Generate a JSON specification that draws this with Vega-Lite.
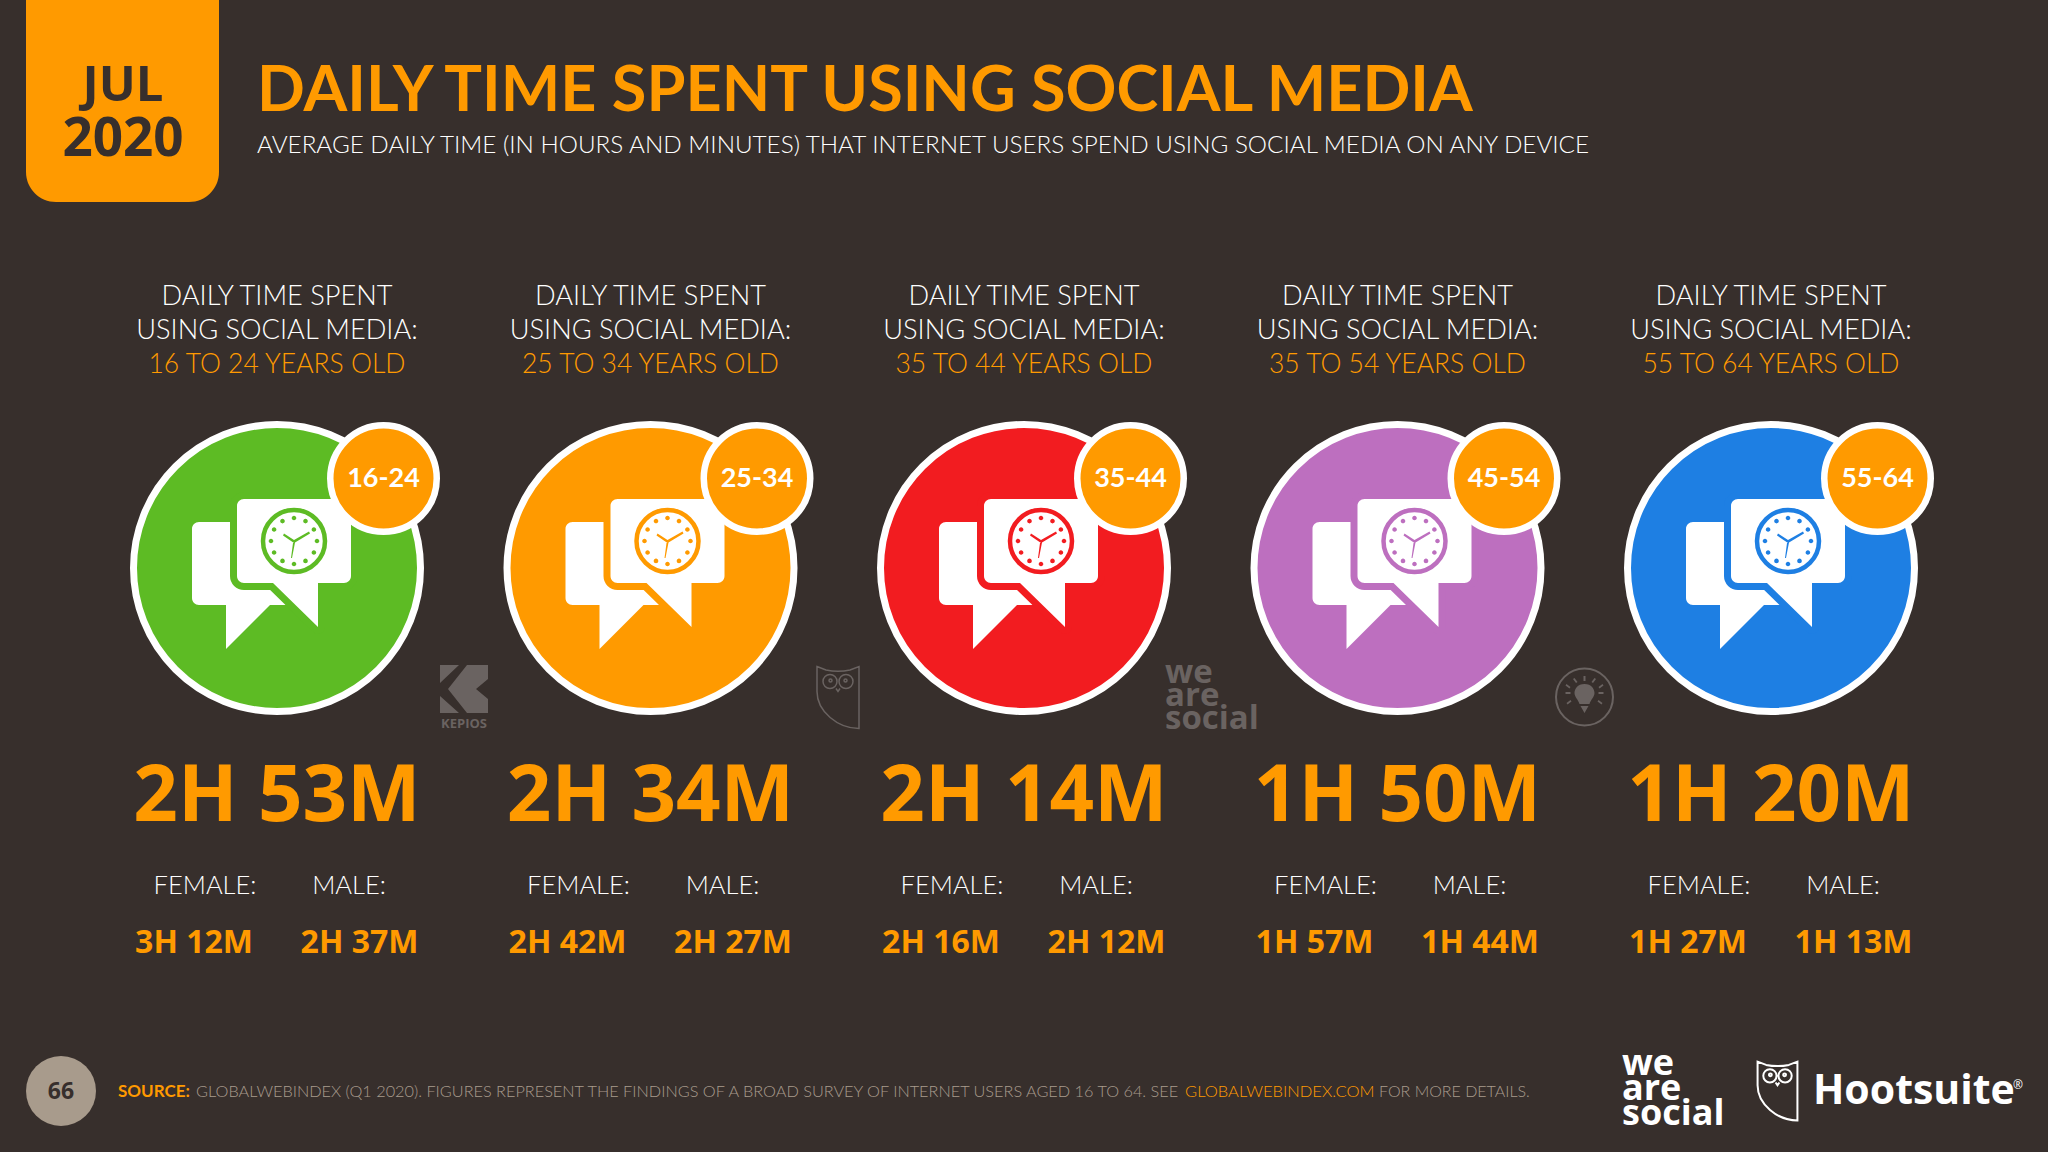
{
  "$schema": "https://vega.github.io/schema/vega-lite/v6.json",
  "width": 2048,
  "height": 1152,
  "padding": 0,
  "autosize": {"type": "none"},
  "background": "#372f2c",
  "title": {
    "text": "DAILY TIME SPENT USING SOCIAL MEDIA",
    "subtitle": "AVERAGE DAILY TIME (IN HOURS AND MINUTES) THAT INTERNET USERS SPEND USING SOCIAL MEDIA ON ANY DEVICE",
    "anchor": "start",
    "frame": "group",
    "orient": "top",
    "dx": 257,
    "offset": -188,
    "font": "Lato",
    "fontWeight": "bold",
    "fontSize": 63,
    "color": "#ff9a00",
    "subtitleFont": "Lato",
    "subtitleFontWeight": 300,
    "subtitleFontSize": 24.25,
    "subtitleColor": "#ffffff",
    "subtitlePadding": 10
  },
  "config": {
    "view": {"stroke": null},
    "axis": {"disable": true},
    "legend": {"disable": true},
    "point": {"filled": true, "opacity": 1},
    "text": {"align": "center", "baseline": "middle"}
  },
  "data": {
    "values": [
      {"age": "16-24", "range": "16 TO 24 YEARS OLD", "total": "2H 53M", "female": "3H 12M", "male": "2H 37M"},
      {"age": "25-34", "range": "25 TO 34 YEARS OLD", "total": "2H 34M", "female": "2H 42M", "male": "2H 27M"},
      {"age": "35-44", "range": "35 TO 44 YEARS OLD", "total": "2H 14M", "female": "2H 16M", "male": "2H 12M"},
      {"age": "45-54", "range": "35 TO 54 YEARS OLD", "total": "1H 50M", "female": "1H 57M", "male": "1H 44M"},
      {"age": "55-64", "range": "55 TO 64 YEARS OLD", "total": "1H 20M", "female": "1H 27M", "male": "1H 13M"}
    ]
  },
  "encoding": {
    "x": {"field": "age", "type": "ordinal"}
  },
  "layer": [
    {
      "data": {"values": [{"item": "tab"}]},
      "mark": {"type": "point", "size": 4, "color": "#ff9a00", "xOffset": -154.5, "yOffset": -243,
        "shape": "M-96.5 -116H96.5V86A30 30 0 0 1 66.5 116H-66.5A30 30 0 0 1 -96.5 86Z"},
      "encoding": {
        "x": {"datum": "16-24", "type": "ordinal", "scale": {"type": "point", "domain": ["16-24", "25-34", "35-44", "45-54", "55-64"], "range": [277, 1771], "padding": 0}},
        "y": {"datum": "head", "type": "ordinal", "scale": {"type": "point", "domain": ["head", "icon", "total", "split", "foot"], "range": [329, 1091], "padding": 0}}
      }
    },
    {
      "data": {"values": [{"month": "JUL"}]},
      "mark": {"type": "text", "font": "Open Sans", "fontWeight": "bold", "fontSize": 49, "color": "#372f2c", "xOffset": -154, "yOffset": -243},
      "encoding": {"x": {"datum": "16-24", "type": "ordinal"}, "y": {"datum": "head", "type": "ordinal"}, "text": {"field": "month"}}
    },
    {
      "data": {"values": [{"year": "2020"}]},
      "mark": {"type": "text", "font": "Open Sans", "fontWeight": "bold", "fontSize": 53, "color": "#372f2c", "xOffset": -154, "yOffset": -189},
      "encoding": {"x": {"datum": "16-24", "type": "ordinal"}, "y": {"datum": "head", "type": "ordinal"}, "text": {"field": "year"}}
    },
    {
      "mark": {"type": "text", "font": "Lato", "fontWeight": 300, "fontSize": 27.2, "lineHeight": 34, "color": "#ffffff", "yOffset": -32,
        "text": ["DAILY TIME SPENT", "USING SOCIAL MEDIA:"]},
      "encoding": {"y": {"datum": "head", "type": "ordinal"}}
    },
    {
      "mark": {"type": "text", "font": "Lato", "fontWeight": 300, "fontSize": 26.5, "color": "#ff9a00", "yOffset": 36},
      "encoding": {"y": {"datum": "head", "type": "ordinal"}, "text": {"field": "range"}}
    },
    {
      "mark": {"type": "point", "shape": "circle", "size": 82369, "stroke": "#ffffff", "strokeWidth": 7, "yOffset": 48.5},
      "encoding": {
        "y": {"datum": "icon", "type": "ordinal"},
        "fill": {"field": "age", "type": "nominal", "scale": {"domain": ["16-24", "25-34", "35-44", "45-54", "55-64"], "range": ["#5dbb24", "#ff9a00", "#f21c20", "#bd6fbf", "#1e7fe3"]}}
      }
    },
    {
      "mark": {"type": "point", "size": 4, "color": "#ffffff", "yOffset": 48.5,
        "shape": "M-78 -46H0V10L9 37H-7L-51 81V37H-78A7 7 0 0 1 -85 30V-39A7 7 0 0 1 -78 -46Z"},
      "encoding": {"y": {"datum": "icon", "type": "ordinal"}}
    },
    {
      "mark": {"type": "point", "size": 4, "strokeWidth": 14, "strokeJoin": "round", "fill": "#ffffff", "yOffset": 48.5,
        "shape": "M-33 -69H67A7 7 0 0 1 74 -62V8A7 7 0 0 1 67 15H41V59L-4 15H-33A7 7 0 0 1 -40 8V-62A7 7 0 0 1 -33 -69Z"},
      "encoding": {
        "y": {"datum": "icon", "type": "ordinal"},
        "stroke": {"field": "age", "type": "nominal", "scale": {"domain": ["16-24", "25-34", "35-44", "45-54", "55-64"], "range": ["#5dbb24", "#ff9a00", "#f21c20", "#bd6fbf", "#1e7fe3"]}}
      }
    },
    {
      "mark": {"type": "point", "size": 4, "color": "#ffffff", "yOffset": 48.5,
        "shape": "M-33 -69H67A7 7 0 0 1 74 -62V8A7 7 0 0 1 67 15H41V59L-4 15H-33A7 7 0 0 1 -40 8V-62A7 7 0 0 1 -33 -69Z"},
      "encoding": {"y": {"datum": "icon", "type": "ordinal"}}
    },
    {
      "mark": {"type": "point", "shape": "circle", "size": 3844, "strokeWidth": 4.5, "fill": "#ffffff", "xOffset": 17, "yOffset": 21.5},
      "encoding": {
        "y": {"datum": "icon", "type": "ordinal"},
        "stroke": {"field": "age", "type": "nominal"}
      }
    },
    {
      "mark": {"type": "point", "size": 4, "xOffset": 17, "yOffset": 21.5,
        "shape": "M-2.3 -23a2.3 2.3 0 1 0 4.6 0a2.3 2.3 0 1 0-4.6 0ZM9.2 -19.9a2.3 2.3 0 1 0 4.6 0a2.3 2.3 0 1 0-4.6 0ZM17.6 -11.5a2.3 2.3 0 1 0 4.6 0a2.3 2.3 0 1 0-4.6 0ZM20.7 0a2.3 2.3 0 1 0 4.6 0a2.3 2.3 0 1 0-4.6 0ZM17.6 11.5a2.3 2.3 0 1 0 4.6 0a2.3 2.3 0 1 0-4.6 0ZM9.2 19.9a2.3 2.3 0 1 0 4.6 0a2.3 2.3 0 1 0-4.6 0ZM-2.3 23a2.3 2.3 0 1 0 4.6 0a2.3 2.3 0 1 0-4.6 0ZM-13.8 19.9a2.3 2.3 0 1 0 4.6 0a2.3 2.3 0 1 0-4.6 0ZM-22.2 11.5a2.3 2.3 0 1 0 4.6 0a2.3 2.3 0 1 0-4.6 0ZM-25.3 0a2.3 2.3 0 1 0 4.6 0a2.3 2.3 0 1 0-4.6 0ZM-22.2 -11.5a2.3 2.3 0 1 0 4.6 0a2.3 2.3 0 1 0-4.6 0ZM-13.8 -19.9a2.3 2.3 0 1 0 4.6 0a2.3 2.3 0 1 0-4.6 0ZM0 2L-11 -5.5L-10 -7.5L0 -1L15 -9.5L16 -7.5L1 1.5L-2 17L-3 17L-1 2Z"},
      "encoding": {
        "y": {"datum": "icon", "type": "ordinal"},
        "fill": {"field": "age", "type": "nominal"}
      }
    },
    {
      "mark": {"type": "point", "shape": "circle", "size": 11342, "fill": "#ff9a00", "stroke": "#ffffff", "strokeWidth": 6.5, "xOffset": 106.5, "yOffset": -41},
      "encoding": {"y": {"datum": "icon", "type": "ordinal"}}
    },
    {
      "mark": {"type": "text", "font": "Lato", "fontWeight": "bold", "fontSize": 27, "color": "#ffffff", "xOffset": 106.5, "yOffset": -41},
      "encoding": {"y": {"datum": "icon", "type": "ordinal"}, "text": {"field": "age"}}
    },
    {
      "mark": {"type": "text", "font": "Open Sans", "fontWeight": "bold", "fontSize": 78, "color": "#ff9a00", "yOffset": 88},
      "encoding": {"y": {"datum": "total", "type": "ordinal"}, "text": {"field": "total"}}
    },
    {
      "mark": {"type": "text", "font": "Lato", "fontWeight": 300, "fontSize": 25.5, "color": "#ffffff", "text": "FEMALE:", "xOffset": -72, "yOffset": -15},
      "encoding": {"y": {"datum": "split", "type": "ordinal"}}
    },
    {
      "mark": {"type": "text", "font": "Lato", "fontWeight": 300, "fontSize": 25.5, "color": "#ffffff", "text": "MALE:", "xOffset": 72, "yOffset": -15},
      "encoding": {"y": {"datum": "split", "type": "ordinal"}}
    },
    {
      "mark": {"type": "text", "font": "Open Sans", "fontWeight": "bold", "fontSize": 32, "color": "#ff9a00", "xOffset": -83, "yOffset": 42},
      "encoding": {"y": {"datum": "split", "type": "ordinal"}, "text": {"field": "female"}}
    },
    {
      "mark": {"type": "text", "font": "Open Sans", "fontWeight": "bold", "fontSize": 32, "color": "#ff9a00", "xOffset": 82.5, "yOffset": 42},
      "encoding": {"y": {"datum": "split", "type": "ordinal"}, "text": {"field": "male"}}
    },
    {
      "data": {"values": [{"logo": "kepios"}]},
      "mark": {"type": "point", "size": 4, "color": "#6a6361", "xOffset": 187, "yOffset": 169.5,
        "shape": "M-24 -24H-5L-24 -6ZM-24 24V7L-5 24ZM3 -24H24V-10L12 0L24 10V24H3L-16 0Z"},
      "encoding": {"x": {"datum": "16-24", "type": "ordinal"}, "y": {"datum": "icon", "type": "ordinal"}}
    },
    {
      "data": {"values": [{"logo": "KEPIOS"}]},
      "mark": {"type": "text", "font": "Open Sans", "fontWeight": "bold", "fontSize": 13, "color": "#6a6361", "xOffset": 187, "yOffset": 204.5},
      "encoding": {"x": {"datum": "16-24", "type": "ordinal"}, "y": {"datum": "icon", "type": "ordinal"}, "text": {"field": "logo"}}
    },
    {
      "data": {"values": [{"logo": "owl"}]},
      "mark": {"type": "point", "filled": false, "size": 4, "stroke": "#6a6361", "strokeWidth": 1.5, "xOffset": 187.5, "yOffset": 178,
        "shape": "M-21 -31L-12 -27.5Q0 -25 12 -27.5L21 -31V31C0 31 -21 14 -21 -6ZM-15 -16a7 7 0 1 0 14 0a7 7 0 1 0-14 0ZM1 -16a7 7 0 1 0 14 0a7 7 0 1 0-14 0ZM-9 -17a1.5 1.5 0 1 0 3 0a1.5 1.5 0 1 0-3 0ZM6 -17a1.5 1.5 0 1 0 3 0a1.5 1.5 0 1 0-3 0ZM-2 -9L0 -6L2 -9"},
      "encoding": {"x": {"datum": "25-34", "type": "ordinal"}, "y": {"datum": "icon", "type": "ordinal"}}
    },
    {
      "data": {"values": [{"logo": "we are social"}]},
      "mark": {"type": "text", "font": "Open Sans", "fontWeight": "bold", "fontSize": 33, "lineHeight": 23, "align": "left", "baseline": "alphabetic", "color": "#6a6361", "xOffset": 141, "yOffset": 163.5,
        "text": ["we", "are", "social"]},
      "encoding": {"x": {"datum": "35-44", "type": "ordinal"}, "y": {"datum": "icon", "type": "ordinal"}}
    },
    {
      "data": {"values": [{"logo": "bulb ring"}]},
      "mark": {"type": "point", "shape": "circle", "filled": false, "size": 3249, "stroke": "#6a6361", "strokeWidth": 2, "xOffset": 187, "yOffset": 177.5},
      "encoding": {"x": {"datum": "45-54", "type": "ordinal"}, "y": {"datum": "icon", "type": "ordinal"}}
    },
    {
      "data": {"values": [{"logo": "bulb"}]},
      "mark": {"type": "point", "size": 4, "color": "#6a6361", "xOffset": 187, "yOffset": 177.5,
        "shape": "M0 -13C-7 -13 -10 -8 -10 -4C-10 0 -6 3 -5 7H5C6 3 10 0 10 -4C10 -8 7 -13 0 -13ZM-4 9H4L0 16ZM-19 -5h5v2h-5zM14 -5h5v2h-5zM-18 -13l4 3-1 1.5-4-3zM18 -13l-4 3 1 1.5 4-3zM-1 -21h2v5h-2zM-10 -19l3 4-1.5 1-3-4zM10 -19l-3 4 1.5 1 3-4zM-18 6l4-3 1 1.5-4 3zM18 6l-4-3-1 1.5 4 3z"},
      "encoding": {"x": {"datum": "45-54", "type": "ordinal"}, "y": {"datum": "icon", "type": "ordinal"}}
    },
    {
      "data": {"values": [{"page": "66"}]},
      "mark": {"type": "point", "shape": "circle", "size": 4900, "color": "#a89b8c", "xOffset": -216},
      "encoding": {"x": {"datum": "16-24", "type": "ordinal"}, "y": {"datum": "foot", "type": "ordinal"}}
    },
    {
      "data": {"values": [{"page": "66"}]},
      "mark": {"type": "text", "font": "Open Sans", "fontWeight": "bold", "fontSize": 23, "color": "#372f2c", "xOffset": -216, "yOffset": 1},
      "encoding": {"x": {"datum": "16-24", "type": "ordinal"}, "y": {"datum": "foot", "type": "ordinal"}, "text": {"field": "page"}}
    },
    {
      "data": {"values": [{"note": "SOURCE:"}]},
      "mark": {"type": "text", "font": "Lato", "fontWeight": "bold", "fontSize": 17, "align": "left", "color": "#ff9a00", "xOffset": -159, "yOffset": 1},
      "encoding": {"x": {"datum": "16-24", "type": "ordinal"}, "y": {"datum": "foot", "type": "ordinal"}, "text": {"field": "note"}}
    },
    {
      "data": {"values": [{"note": "GLOBALWEBINDEX (Q1 2020). FIGURES REPRESENT THE FINDINGS OF A BROAD SURVEY OF INTERNET USERS AGED 16 TO 64. SEE"}]},
      "mark": {"type": "text", "font": "Lato", "fontWeight": 300, "fontSize": 16.3, "align": "left", "color": "#a89b8c", "xOffset": -81, "yOffset": 1},
      "encoding": {"x": {"datum": "16-24", "type": "ordinal"}, "y": {"datum": "foot", "type": "ordinal"}, "text": {"field": "note"}}
    },
    {
      "data": {"values": [{"note": "GLOBALWEBINDEX.COM"}]},
      "mark": {"type": "text", "font": "Lato", "fontWeight": 300, "fontSize": 16.5, "align": "left", "color": "#ff9a00", "xOffset": 908, "yOffset": 1},
      "encoding": {"x": {"datum": "16-24", "type": "ordinal"}, "y": {"datum": "foot", "type": "ordinal"}, "text": {"field": "note"}}
    },
    {
      "data": {"values": [{"note": "FOR MORE DETAILS."}]},
      "mark": {"type": "text", "font": "Lato", "fontWeight": 300, "fontSize": 16, "align": "left", "color": "#a89b8c", "xOffset": 1102, "yOffset": 1},
      "encoding": {"x": {"datum": "16-24", "type": "ordinal"}, "y": {"datum": "foot", "type": "ordinal"}, "text": {"field": "note"}}
    },
    {
      "data": {"values": [{"logo": "we are social"}]},
      "mark": {"type": "text", "font": "Open Sans", "fontWeight": "bold", "fontSize": 36, "lineHeight": 25, "align": "left", "baseline": "alphabetic", "color": "#ffffff", "xOffset": -149, "yOffset": -16,
        "text": ["we", "are", "social"]},
      "encoding": {"x": {"datum": "55-64", "type": "ordinal"}, "y": {"datum": "foot", "type": "ordinal"}}
    },
    {
      "data": {"values": [{"logo": "owl"}]},
      "mark": {"type": "point", "filled": false, "size": 3.6, "stroke": "#ffffff", "strokeWidth": 2, "xOffset": 6.5,
        "shape": "M-21 -31L-12 -27.5Q0 -25 12 -27.5L21 -31V31C0 31 -21 14 -21 -6ZM-15 -16a7 7 0 1 0 14 0a7 7 0 1 0-14 0ZM1 -16a7 7 0 1 0 14 0a7 7 0 1 0-14 0ZM-9 -17a1.5 1.5 0 1 0 3 0a1.5 1.5 0 1 0-3 0ZM6 -17a1.5 1.5 0 1 0 3 0a1.5 1.5 0 1 0-3 0ZM-2 -9L0 -6L2 -9"},
      "encoding": {"x": {"datum": "55-64", "type": "ordinal"}, "y": {"datum": "foot", "type": "ordinal"}}
    },
    {
      "data": {"values": [{"logo": "Hootsuite"}]},
      "mark": {"type": "text", "font": "Open Sans", "fontWeight": "bold", "fontSize": 41, "align": "left", "baseline": "alphabetic", "color": "#ffffff", "xOffset": 42, "yOffset": 13},
      "encoding": {"x": {"datum": "55-64", "type": "ordinal"}, "y": {"datum": "foot", "type": "ordinal"}, "text": {"field": "logo"}}
    },
    {
      "data": {"values": [{"logo": "®"}]},
      "mark": {"type": "text", "font": "Open Sans", "fontSize": 12, "align": "left", "color": "#ffffff", "xOffset": 242, "yOffset": -6},
      "encoding": {"x": {"datum": "55-64", "type": "ordinal"}, "y": {"datum": "foot", "type": "ordinal"}, "text": {"field": "logo"}}
    }
  ]
}
